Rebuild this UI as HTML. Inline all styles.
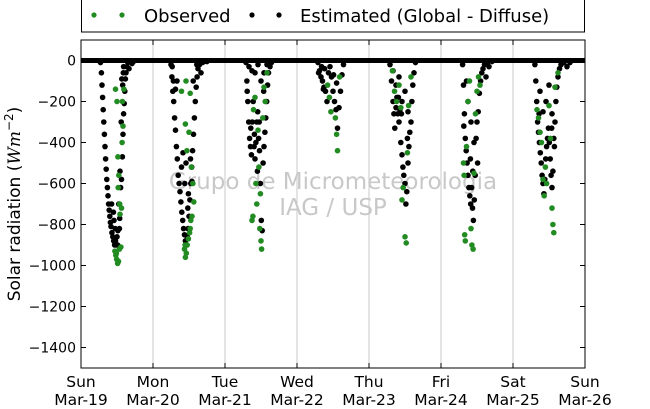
<!DOCTYPE html>
<html><head><meta charset="utf-8"><style>
body{margin:0;background:#fff}
svg{display:block;font-family:"DejaVu Sans","Liberation Sans",sans-serif}
</style></head><body>
<svg id="c" width="650" height="409"></svg>
<script>
const dayLabels=["Sun","Mon","Tue","Wed","Thu","Fri","Sat","Sun"];
const dateLabels=["Mar-19","Mar-20","Mar-21","Mar-22","Mar-23","Mar-24","Mar-25","Mar-26"];
const yTicks=[0,-200,-400,-600,-800,-1000,-1200,-1400];
const estDays=[
[[6.5,-10],[6.8,-60],[7,-120],[7.2,-180],[7.4,-240],[7.6,-300],[7.8,-360],[8,-420],[8.2,-480],[8.4,-530],[8.6,-580],[8.8,-620],[9,-660],[9.2,-700],[9.4,-730],[9.6,-760],[9.8,-790],[10,-810],[10.3,-840],[10.6,-860],[10.9,-880],[11.2,-900],[11.5,-880],[11.8,-900],[12,-860],[12.3,-830],[12.6,-700],[12.9,-770],[13.2,-620],[13.5,-580],[13.8,-470],[14,-360],[14.2,-260],[14.4,-210],[14.6,-150],[14.8,-90],[15,-60],[15.3,-30],[15.6,-10],[16,-40],[16.5,-5],[17,-15],[17.5,-5],[13,-540],[12.8,-820],[11,-780],[10.8,-740],[13.6,-90],[14.2,-30],[13.4,-300],[10.2,-700],[11.4,-820],[12.2,-900],[13.9,-120],[14.1,-60]],
[[6,-20],[6.3,-80],[6.6,-150],[6.9,-200],[7.2,-280],[7.5,-340],[7.8,-420],[8.1,-480],[8.4,-560],[8.7,-600],[9,-640],[9.3,-690],[9.6,-740],[9.9,-780],[10.2,-820],[10.5,-850],[10.8,-880],[11.1,-900],[11.4,-860],[11.7,-820],[12,-760],[12.3,-680],[12.6,-600],[12.9,-520],[13.2,-440],[13.5,-360],[13.8,-280],[14.1,-200],[14.4,-130],[14.7,-80],[15,-40],[15.5,-20],[16,-60],[16.5,-10],[17,-5],[18,-5],[10,-450],[9.5,-520],[11,-500],[12.5,-480],[13,-590],[11.8,-650],[7.5,-140],[8,-100],[6.4,-30],[6.8,-100],[10.6,-600],[11.6,-720],[13.4,-100],[14.6,-20]],
[[7,-10],[7.3,-100],[7.6,-200],[7.9,-300],[8.2,-380],[8.5,-420],[8.8,-460],[9.1,-300],[9.4,-200],[9.7,-420],[10,-480],[10.3,-400],[10.6,-300],[10.9,-250],[11.2,-380],[11.5,-440],[11.8,-600],[12.1,-780],[12.4,-830],[12.7,-500],[13,-420],[13.3,-350],[13.6,-280],[13.9,-200],[14.2,-120],[14.5,-60],[15,-30],[15.5,-10],[8,-30],[9,-50],[10,-60],[11,-20],[12,-100],[13,-60],[14,-20],[12.9,-150],[10.8,-540],[7.4,-150],[8.6,-330],[9.8,-360],[11.4,-300]],
[[7,-10],[7.5,-50],[8,-80],[8.5,-100],[9,-130],[9.5,-150],[10,-200],[10.5,-60],[11,-30],[11.5,-80],[12,-150],[12.5,-200],[13,-240],[13.5,-330],[14,-230],[14.5,-150],[15,-70],[15.5,-20],[9.2,-40],[12.2,-70],[13.2,-110],[8.2,-30],[7.2,-60],[8.8,-140]],
[[7,-20],[7.5,-100],[8,-200],[8.3,-260],[8.6,-330],[9,-230],[9.3,-180],[9.6,-260],[10,-300],[10.3,-240],[10.6,-400],[11,-460],[11.3,-520],[11.6,-560],[12,-600],[12.3,-700],[12.6,-640],[13,-500],[13.3,-420],[13.6,-350],[14,-300],[14.3,-200],[14.6,-120],[15,-60],[15.5,-10],[8,-50],[10,-80],[12,-150],[11,-200],[13,-250],[9,-120],[9.8,-180],[10.8,-260],[12.8,-380]],
[[7.2,-20],[7.5,-120],[7.8,-260],[8.1,-380],[8.4,-440],[8.7,-500],[9,-560],[9.3,-620],[9.6,-660],[9.9,-700],[10.2,-620],[10.5,-720],[10.8,-780],[11.1,-680],[11.4,-560],[11.7,-380],[12,-300],[12.4,-250],[12.8,-160],[13.2,-100],[13.6,-60],[14,-40],[14.5,-20],[15,-80],[15.5,-10],[16,-30],[17,-5],[9,-200],[10,-300],[11,-400],[12.2,-500],[8.5,-100],[7.6,-320],[9.8,-480],[10.6,-540]],
[[7.3,-20],[7.6,-100],[7.9,-200],[8.2,-300],[8.5,-350],[8.8,-400],[9.1,-450],[9.4,-500],[9.7,-560],[10,-600],[10.3,-650],[10.6,-580],[10.9,-480],[11.2,-420],[11.5,-380],[11.8,-330],[12.1,-400],[12.4,-480],[12.7,-560],[13,-620],[13.3,-540],[13.6,-380],[14,-300],[14.3,-200],[14.6,-130],[15,-80],[15.5,-40],[16,-20],[17,-10],[18,-30],[19,-10],[9,-150],[10,-250],[11,-200],[12,-120],[13,-260],[13.8,-420],[12.9,-330],[8.7,-260]]
];
const obsDays=[
[[11.3,-930],[11.6,-950],[11.9,-970],[12.2,-990],[12.5,-980],[12.8,-920],[13.3,-910],[11.5,-140],[12,-200],[12.3,-470],[12.6,-560],[13,-750],[13.5,-720],[13.7,-400],[14,-320],[14.3,-140],[12.4,-620],[13.8,-200],[11.8,-940],[12.9,-700]],
[[10.5,-920],[10.8,-960],[11.1,-940],[11.4,-900],[11.8,-870],[12.2,-840],[12.6,-780],[13,-760],[10.8,-310],[11.3,-440],[12,-350],[12.8,-520],[13.3,-600],[13.6,-690],[11,-100],[12.4,-160],[9.5,-150],[10.7,-900],[12.4,-820]],
[[9.5,-240],[10,-180],[10.3,-600],[10.6,-700],[11,-340],[11.3,-520],[11.8,-650],[12,-880],[12.2,-920],[12.6,-280],[13,-130],[13.4,-200],[11.6,-820],[9,-780],[9.3,-760],[14,-60]],
[[10.2,-120],[10.8,-180],[11.3,-250],[12.8,-280],[13.2,-360],[13.5,-440],[14.2,-80]],
[[7.8,-50],[8.5,-150],[9.2,-200],[10,-120],[10.6,-230],[11,-680],[11.4,-620],[12,-860],[12.4,-890],[12.8,-450],[13.2,-220],[14,-80]],
[[7.5,-500],[7.7,-560],[7.9,-850],[8.1,-880],[8.5,-420],[9,-200],[9.5,-100],[10,-820],[10.3,-900],[10.7,-920],[11,-550],[11.5,-260],[12,-150],[12.5,-80],[13,-120]],
[[8,-240],[8.5,-280],[9,-350],[9.5,-400],[10,-580],[10.4,-660],[10.8,-520],[11.2,-600],[12,-220],[12.5,-380],[13,-720],[13.3,-800],[13.6,-840],[14,-130],[15,-60]]
];
const NS="http://www.w3.org/2000/svg",svg=document.getElementById("c");
const L=81,R=585,T=40,B=368,yMax=100,yMin=-1500;
const X=d=>L+(R-L)*d/7, Y=v=>T+(B-T)*(yMax-v)/(yMax-yMin);
function mk(t,a,p){const e=document.createElementNS(NS,t);for(const k in a)e.setAttribute(k,a[k]);(p||svg).appendChild(e);return e;}
for(let i=1;i<7;i++){const g=mk("line",{x1:X(i),x2:X(i),y1:T,y2:B,stroke:"#c8c8c8","stroke-width":1});

}
const w1=mk("text",{x:333,y:189,"text-anchor":"middle","font-size":23,fill:"#c8c8c8"});w1.textContent="Grupo de Micrometeorologia";


const w2=mk("text",{x:333,y:215,"text-anchor":"middle","font-size":23,fill:"#c8c8c8"});w2.textContent="IAG / USP";


const bl=mk("line",{x1:L,x2:R,y1:Y(0),y2:Y(0),stroke:"#000","stroke-width":5});


const gE=mk("g",{});
const gO=mk("g",{});
estDays.forEach((pts,d)=>pts.forEach(p=>{const c=mk("circle",{cx:X(d+p[0]/24),cy:Y(p[1]),r:2.8,fill:"#000"},gE);

}));
obsDays.forEach((pts,d)=>pts.forEach(p=>{const c=mk("circle",{cx:X(d+p[0]/24),cy:Y(p[1]),r:2.8,fill:"#228b22"},gO);

}));
const fr=mk("rect",{x:L,y:T,width:R-L,height:B-T,fill:"none",stroke:"#000","stroke-width":1});

yTicks.forEach(v=>{const y=Y(v);
mk("line",{x1:L,x2:L+5,y1:y,y2:y,stroke:"#000"});mk("line",{x1:R,x2:R-5,y1:y,y2:y,stroke:"#000"});
const t=mk("text",{x:L-5,y:y+5,"text-anchor":"end","font-size":14});t.textContent=v===0?"0":"\u2212"+Math.abs(v);

});
dayLabels.forEach((lab,i)=>{const x=X(i);
mk("line",{x1:x,x2:x,y1:B,y2:B-5,stroke:"#000"});mk("line",{x1:x,x2:x,y1:T,y2:T+5,stroke:"#000"});
const t=mk("text",{x:x,y:387,"text-anchor":"middle","font-size":15.5});t.textContent=lab;


const t2=mk("text",{x:x,y:405,"text-anchor":"middle","font-size":15.5});t2.textContent=dateLabels[i];

});
const yt=mk("text",{transform:"translate(20,204) rotate(-90)","text-anchor":"middle","font-size":17});
yt.innerHTML='Solar radiation (<tspan font-style="italic" font-family="DejaVu Serif">Wm</tspan><tspan dy="-7" font-size="12">−2</tspan><tspan dy="7">)</tspan>';


const lg=mk("g",{});
mk("rect",{x:81.5,y:-1,width:503,height:33,fill:"#fff",stroke:"#000"},lg);
[[94,"#228b22"],[122,"#228b22"],[252,"#000"],[279,"#000"]].forEach(a=>mk("circle",{cx:a[0],cy:15,r:2.6,fill:a[1]},lg));
const l1=mk("text",{x:144,y:22,"font-size":18},lg);l1.textContent="Observed";

const l2=mk("text",{x:300,y:22,"font-size":18},lg);l2.textContent="Estimated (Global - Diffuse)";

</script>
</body></html>
